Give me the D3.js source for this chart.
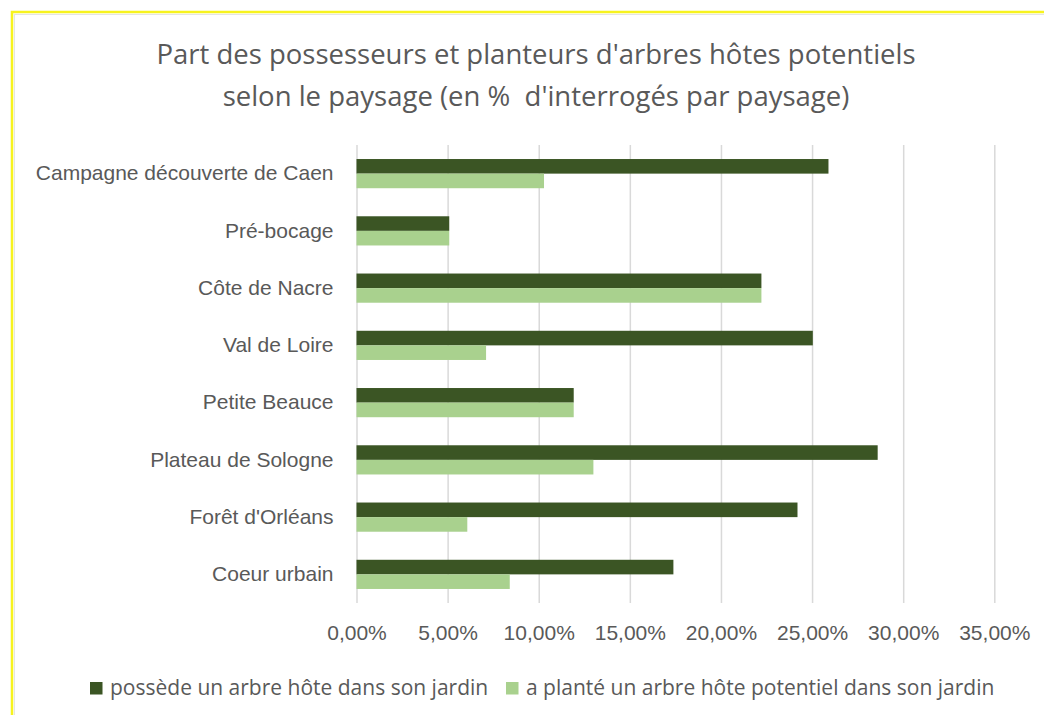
<!DOCTYPE html>
<meta charset="utf-8">
<style>
  body { margin: 0; background-color: #ffffff; }
  svg { display: block; font-family: "Open Sans", "Noto Sans", sans-serif; }
  .axis path { display: none; }
  .axis line { stroke: #d9d9d9; stroke-width: 1.5px; }
  .axis text { fill: #595959; font-size: 21px; }
</style>
<svg width="1044" height="715"></svg>
<script src="https://d3js.org/d3.v7.min.js"></script>
<script>
  var categories = ["Campagne découverte de Caen", "Pré-bocage", "Côte de Nacre", "Val de Loire",
    "Petite Beauce", "Plateau de Sologne", "Forêt d'Orléans", "Coeur urbain"];
  var possede = [25.9, 5.09, 22.22, 25.04, 11.92, 28.6, 24.2, 17.39];
  var plante = [10.29, 5.09, 22.22, 7.11, 11.92, 13.0, 6.08, 8.41];
  var seriesNames = ["possède un arbre hôte dans son jardin", "a planté un arbre hôte potentiel dans son jardin"];
  var colours = ["#3b5524", "#a9d18e"];
  var xTicks = [0, 5, 10, 15, 20, 25, 30, 35];

  var svg = d3.select("svg"),
    margin = { top: 145, right: 50, bottom: 112, left: 356.5 },
    width = 994.3 - margin.left,
    height = 603 - margin.top;

  // frame
  svg.append("rect").attr("x", 12).attr("y", 12).attr("width", 1100).attr("height", 800)
    .attr("fill", "none").attr("stroke", "#f7f31f").attr("stroke-width", 2.5);
  svg.append("rect").attr("x", 14.5).attr("y", 14.5).attr("width", 1100).attr("height", 800)
    .attr("fill", "none").attr("stroke", "#e4e4e4").attr("stroke-width", 1);

  svg.append("text").attr("x", 536).attr("y", 64).attr("text-anchor", "middle")
    .attr("fill", "#595959").style("font-size", "27.5px")
    .text("Part des possesseurs et planteurs d'arbres hôtes potentiels");
  svg.append("text").attr("x", 536).attr("y", 106).attr("text-anchor", "middle")
    .attr("fill", "#595959").style("font-size", "27.5px").style("white-space", "pre")
    .text("selon le paysage (en %  d'interrogés par paysage)");

  var x = d3.scaleLinear().domain([0, 35]).range([0, width]);
  var y = d3.scaleBand().domain(categories).range([0, height]).paddingInner(0.49).paddingOuter(0.245);

  var g = svg.append("g").attr("transform", "translate(" + margin.left + "," + margin.top + ")");

  g.append("g")
    .attr("class", "axis axis--x")
    .call(d3.axisBottom(x).tickValues(xTicks).tickSize(height).tickPadding(22)
      .tickFormat(function (d) { return d.toFixed(2).replace(".", ",") + "%"; }));

  g.append("g")
    .attr("class", "axis axis--y")
    .call(d3.axisLeft(y).tickSize(0).tickPadding(23));

  var data = categories.map(function (c, i) { return { cat: c, values: [possede[i], plante[i]] }; });
  var bh = y.bandwidth() / 2;

  var rows = g.selectAll(".row").data(data).enter().append("g")
    .attr("transform", function (d) { return "translate(0," + y(d.cat) + ")"; });

  rows.selectAll("rect")
    .data(function (d) { return d.values; })
    .enter().append("rect")
    .attr("x", x(0))
    .attr("y", function (d, i) { return i * bh; })
    .attr("width", function (d) { return x(d) - x(0); })
    .attr("height", bh)
    .attr("fill", function (d, i) { return colours[i]; });

  // legend
  var legend = svg.append("g").attr("transform", "translate(0,688)");
  var legX = [90, 506];
  seriesNames.forEach(function (name, i) {
    legend.append("rect").attr("x", legX[i]).attr("y", -6).attr("width", 12.5).attr("height", 12.5).attr("fill", colours[i]);
    legend.append("text").attr("x", legX[i] + 20).attr("y", 0).attr("dy", "0.35em")
      .attr("fill", "#595959").style("font-size", "21px").text(name);
  });
</script>
